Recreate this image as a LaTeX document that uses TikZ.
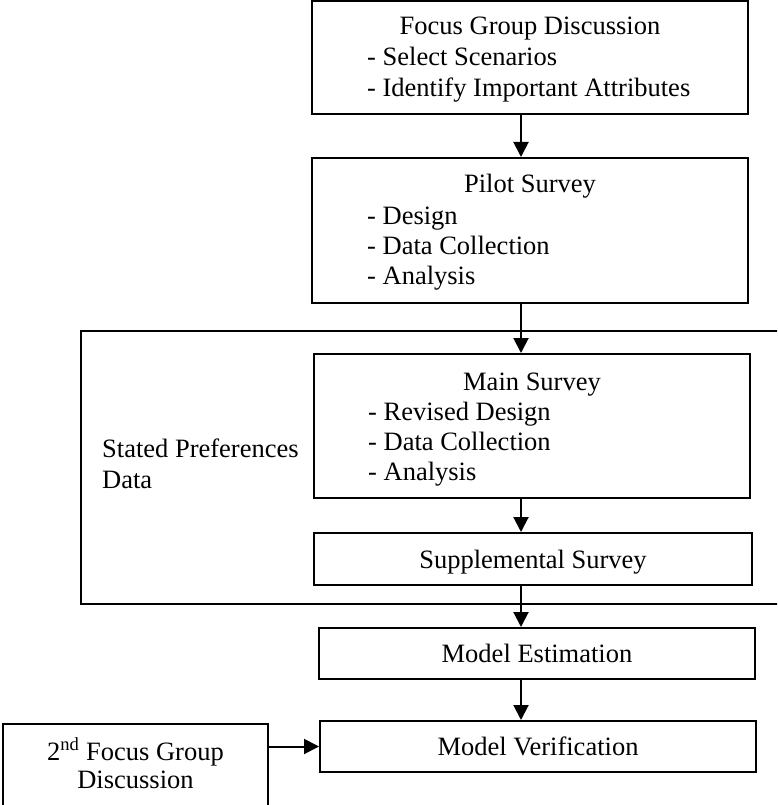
\documentclass[tikz,border=0pt]{standalone}
\usepackage{fontspec}
\setmainfont{Liberation Serif}
\usetikzlibrary{arrows.meta}
\begin{document}
\begin{tikzpicture}[x=1pt,y=-1pt,
    font=\fontsize{26.5}{31}\selectfont,
    box/.style={draw,line width=2pt,rectangle,inner sep=0pt},
    txt/.style={inner sep=0pt,anchor=base west},
    ttl/.style={inner sep=0pt,anchor=base},
    flow/.style={line width=2pt,-{Triangle[length=15pt,width=15pt]}}]
  \clip (0,0) rectangle (777,805);
  \coordinate (spine) at (521,0);
  \node[box,minimum width=436,minimum height=113] (fgd) at (530,57.5) {};
  \node[box,minimum width=436,minimum height=145] (pilot) at (530,230.5) {};
  \node[box,minimum width=436,minimum height=144] (main) at (532,426) {};
  \node[box,minimum width=438,minimum height=52,text depth=0pt] (supp) at (533,559) {Supplemental Survey};
  \node[box,minimum width=436,minimum height=51,text depth=0pt] (est) at (537,653.5) {Model Estimation};
  \node[box,minimum width=436,minimum height=51,text depth=0pt] (verif) at (538,746.5) {Model Verification};
  \node[box,minimum width=265,minimum height=110] (fgdtwo) at (135.5,779) {};
  \draw[line width=1.5pt] (790,331) -| (81,604) -- (790,604);
  \node[ttl] (fgdt) at (530,35) {Focus Group Discussion};
  \node[txt] (fgda) at (367,66) {- Select Scenarios};
  \node[txt] (fgdb) at (367,97) {- Identify Important Attributes};
  \node[ttl] (pilott) at (530,193) {Pilot Survey};
  \node[txt] (pilota) at (367,224) {- Design};
  \node[txt] (pilotb) at (367,254) {- Data Collection};
  \node[txt] (pilotc) at (367,284) {- Analysis};
  \node[ttl] (maint) at (532,390) {Main Survey};
  \node[txt] (maina) at (368,420) {- Revised Design};
  \node[txt] (mainb) at (368,450) {- Data Collection};
  \node[txt] (mainc) at (368,480) {- Analysis};
  \node[txt] (spa) at (102,457) {Stated Preferences};
  \node[txt] (spb) at (102,488) {Data};
  \node[ttl] (fgdtwoa) at (135.5,760) {2\textsuperscript{nd} Focus Group};
  \node[ttl] (fgdtwob) at (135.5,788) {Discussion};
  \draw[flow] (fgd.south -| spine) -- (pilot.north -| spine);
  \draw[flow] (pilot.south -| spine) -- (main.north -| spine);
  \draw[flow] (main.south -| spine) -- (supp.north -| spine);
  \draw[flow] (supp.south -| spine) -- (est.north -| spine);
  \draw[flow] (est.south -| spine) -- (verif.north -| spine);
  \draw[flow] (fgdtwo.east |- verif.west) -- (verif.west);
\end{tikzpicture}
\end{document}
